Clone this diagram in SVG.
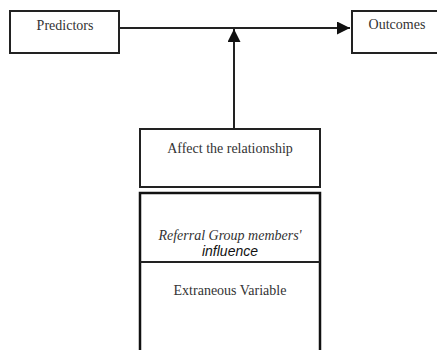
<svg xmlns="http://www.w3.org/2000/svg" width="437" height="350" viewBox="0 0 437 350">
<style>
.box{fill:#fff;stroke:#222;stroke-width:2}
.thick{fill:#fff;stroke:#111;stroke-width:2.5}
.t{font-family:"Liberation Serif",serif;font-size:14px;fill:#333;text-anchor:middle}
.ti{font-family:"Liberation Serif",serif;font-size:14px;font-style:italic;fill:#333;text-anchor:middle}
.si{font-family:"Liberation Sans",sans-serif;font-size:14px;font-style:italic;fill:#111;text-anchor:middle}
.ln{stroke:#222;stroke-width:2;fill:none}
</style>
<defs>
<marker id="ah" viewBox="0 0 10 10" refX="10" refY="5" markerWidth="6.5" markerHeight="6.5" orient="auto" markerUnits="strokeWidth">
<path d="M0,0 L10,5 L0,10 Z" fill="#111"/>
</marker>
</defs>
<g id="connectors">
<line class="ln" x1="120" y1="28" x2="350" y2="28" marker-end="url(#ah)"/>
<line class="ln" x1="234" y1="129" x2="234" y2="29" marker-end="url(#ah)"/>
</g>
<g id="predictors">
<rect class="box" x="10" y="11" width="109" height="42"/>
<text class="t" x="65" y="30">Predictors</text>
</g>
<g id="outcomes">
<rect class="box" x="352" y="11" width="90" height="42"/>
<text class="t" x="397" y="29">Outcomes</text>
</g>
<g id="affect">
<rect class="box" x="140" y="129" width="180" height="58"/>
<text class="t" x="230" y="153">Affect the relationship</text>
</g>
<g id="extraneous">
<rect class="thick" x="140" y="193" width="180" height="160"/>
<line class="ln" x1="140" y1="262" x2="320" y2="262"/>
<text class="ti" x="230" y="240">Referral Group members'</text>
<text class="si" x="230" y="256">influence</text>
<text class="t" x="230" y="295">Extraneous Variable</text>
</g>
</svg>
